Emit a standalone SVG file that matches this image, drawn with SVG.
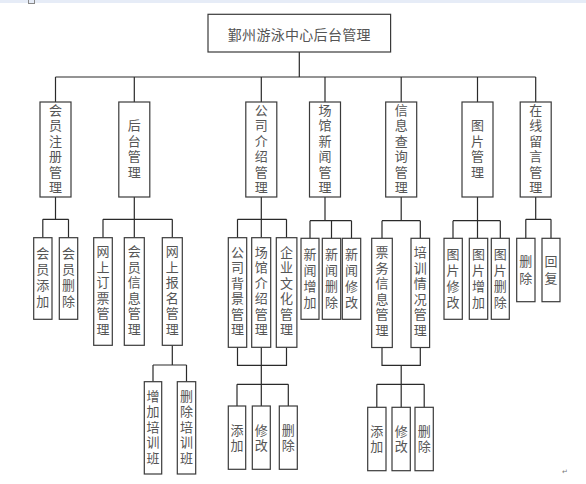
<svg xmlns="http://www.w3.org/2000/svg" width="586" height="484" viewBox="0 0 586 484">
<style>
.b{fill:#fff;stroke:#3a3a3a;stroke-width:1.2}
.t{font-family:"Noto Sans CJK SC","Liberation Serif",serif;font-size:14px;fill:#555;text-anchor:middle;dominant-baseline:central;letter-spacing:0.3px}
.v{font-family:"Noto Sans CJK SC","Liberation Serif",serif;font-size:13px;fill:#555;text-anchor:middle;writing-mode:vertical-rl;letter-spacing:2.5px}
.w{letter-spacing:3px}
.c{fill:none;stroke:#2a2a2a;stroke-width:1.2}
</style>
<rect x="0" y="0" width="586" height="3" fill="#e6ecf7"/>
<rect x="28.5" y="-1" width="6" height="4.5" fill="none" stroke="#888" stroke-width="1"/>
<g id="connectors" class="c">
<path d="M299.3 52V77M55.5 77H535.7M55.5 77V102M134.3 77V102M261.3 77V102M325 77V102M401.2 77V102M477.5 77V102M535.7 77V102"/>
<path d="M55.5 197V219.3M42.8 219.3H68.5M42.8 219.3V237.7M68.5 219.3V237.7"/>
<path d="M134.3 197V219.3M103 219.3H172.3M103 219.3V237.7M134.3 219.3V237.7M172.3 219.3V237.7"/>
<path d="M172.3 345.3V365M153 365H186.5M153 365V381.7M186.5 365V381.7"/>
<path d="M261.3 197V219.3M237.5 219.3H286.5M237.5 219.3V237.7M261.3 219.3V237.7M286.5 219.3V237.7"/>
<path d="M237.5 347.3V365.3H286.5V347.3M261.3 347.3V406M237 384.3H288.3M237 384.3V406M288.3 384.3V406"/>
<path d="M325 197V220.7M310 220.7H351.5M310 220.7V238.3M331.5 220.7V238.3M351.5 220.7V238.3"/>
<path d="M401.2 197V220.7M382 220.7H420.3M382 220.7V238.3M420.3 220.7V238.3"/>
<path d="M382 347.5V365.3H420.3V347.5M401.2 365.3V407.3M376.8 384.3H424.2M376.8 384.3V407.3M424.2 384.3V407.3"/>
<path d="M477.5 197V238.3M453 220.7H500.3M453 220.7V238.3M500.3 220.7V238.3"/>
<path d="M535.7 197V219.3M525.8 219.3H551M525.8 219.3V238.3M551 219.3V238.3"/>
</g>
<g id="root"><rect class="b" x="208" y="14.3" width="182.6" height="37.7"/><text class="t" x="299.3" y="34">鄞州游泳中心后台管理</text></g>

<g id="n1"><rect class="b" x="40" y="102" width="31" height="95"/><text class="v" x="55.5" y="149.6">会员注册管理</text></g>
<g id="n2"><rect class="b" x="118.8" y="102" width="31" height="95"/><text class="v" x="134.3" y="149.6">后台管理</text></g>
<g id="n3"><rect class="b" x="245.8" y="102" width="31" height="95"/><text class="v" x="261.3" y="149.6">公司介绍管理</text></g>
<g id="n4"><rect class="b" x="309.5" y="102" width="31" height="95"/><text class="v" x="325" y="149.6">场馆新闻管理</text></g>
<g id="n5"><rect class="b" x="385.7" y="102" width="31" height="95"/><text class="v" x="401.2" y="149.6">信息查询管理</text></g>
<g id="n6"><rect class="b" x="462" y="102" width="31" height="95"/><text class="v" x="477.5" y="149.6">图片管理</text></g>
<g id="n7"><rect class="b" x="520.2" y="102" width="31" height="95"/><text class="v" x="535.7" y="149.6">在线留言管理</text></g>

<g id="n1a"><rect class="b" x="33.7" y="237.7" width="18.3" height="81.6"/><text class="v w" x="42.8" y="279">会员添加</text></g>
<g id="n1b"><rect class="b" x="59.3" y="237.7" width="18.4" height="81.6"/><text class="v w" x="68.5" y="279">会员删除</text></g>

<g id="n2a"><rect class="b" x="93.7" y="237.7" width="18.6" height="107.6"/><text class="v" x="103" y="291.3">网上订票管理</text></g>
<g id="n2b"><rect class="b" x="124.3" y="237.7" width="20" height="107.6"/><text class="v" x="134.3" y="291.3">会员信息管理</text></g>
<g id="n2c"><rect class="b" x="162.3" y="237.7" width="20" height="107.6"/><text class="v" x="172.3" y="291.3">网上报名管理</text></g>
<g id="n2c1"><rect class="b" x="144.3" y="381.7" width="17.4" height="92.3"/><text class="v" x="153" y="428">增加培训班</text></g>
<g id="n2c2"><rect class="b" x="177.3" y="381.7" width="18.4" height="92.3"/><text class="v" x="186.5" y="428">删除培训班</text></g>

<g id="n3a"><rect class="b" x="228.3" y="237.7" width="18.4" height="109.6"/><text class="v" x="237.5" y="292">公司背景管理</text></g>
<g id="n3b"><rect class="b" x="251.7" y="237.7" width="19" height="109.6"/><text class="v" x="261.2" y="292">场馆介绍管理</text></g>
<g id="n3c"><rect class="b" x="276.3" y="237.7" width="20.6" height="109.6"/><text class="v" x="286.6" y="292">企业文化管理</text></g>
<g id="n3d"><rect class="b" x="228.3" y="406" width="17.4" height="63.3"/><text class="v" x="237" y="438.7">添加</text></g>
<g id="n3e"><rect class="b" x="252.3" y="406" width="18" height="63.3"/><text class="v" x="261.3" y="438.7">修改</text></g>
<g id="n3f"><rect class="b" x="279.3" y="406" width="18" height="63.3"/><text class="v" x="288.3" y="438.7">删除</text></g>

<g id="n4a"><rect class="b" x="301" y="238.3" width="18" height="81"/><text class="v w" x="310" y="279.5">新闻增加</text></g>
<g id="n4b"><rect class="b" x="322.3" y="238.3" width="18.4" height="81"/><text class="v w" x="331.5" y="279.5">新闻删除</text></g>
<g id="n4c"><rect class="b" x="342.3" y="238.3" width="18.4" height="81"/><text class="v w" x="351.5" y="279.5">新闻修改</text></g>

<g id="n5a"><rect class="b" x="371.7" y="238.3" width="20.6" height="109.2"/><text class="v" x="382" y="292.5">票务信息管理</text></g>
<g id="n5b"><rect class="b" x="411" y="238.3" width="18.6" height="109.2"/><text class="v" x="420.3" y="292.5">培训情况管理</text></g>
<g id="n5c"><rect class="b" x="367.7" y="407.3" width="18.3" height="63.4"/><text class="v" x="376.8" y="439.8">添加</text></g>
<g id="n5d"><rect class="b" x="392" y="407.3" width="18.3" height="63.4"/><text class="v" x="401.2" y="439.8">修改</text></g>
<g id="n5e"><rect class="b" x="415" y="407.3" width="18.3" height="63.4"/><text class="v" x="424.2" y="439.8">删除</text></g>

<g id="n6a"><rect class="b" x="444" y="238.3" width="18.3" height="81"/><text class="v w" x="453.1" y="279.5">图片修改</text></g>
<g id="n6b"><rect class="b" x="469.3" y="238.3" width="18.4" height="81"/><text class="v w" x="478.5" y="279.5">图片增加</text></g>
<g id="n6c"><rect class="b" x="491.3" y="238.3" width="18" height="81"/><text class="v w" x="500.3" y="279.5">图片删除</text></g>

<g id="n7a"><rect class="b" x="516.7" y="238.3" width="18.3" height="63.4"/><text class="v" x="525.8" y="271.2" style="letter-spacing:4px">删除</text></g>
<g id="n7b"><rect class="b" x="542" y="238.3" width="18" height="63.4"/><text class="v" x="551" y="271.2" style="letter-spacing:4px">回复</text></g>

<text x="565" y="474" style="font-family:'DejaVu Sans',sans-serif;font-size:7px;fill:#777;text-anchor:middle">↵</text>
</svg>
